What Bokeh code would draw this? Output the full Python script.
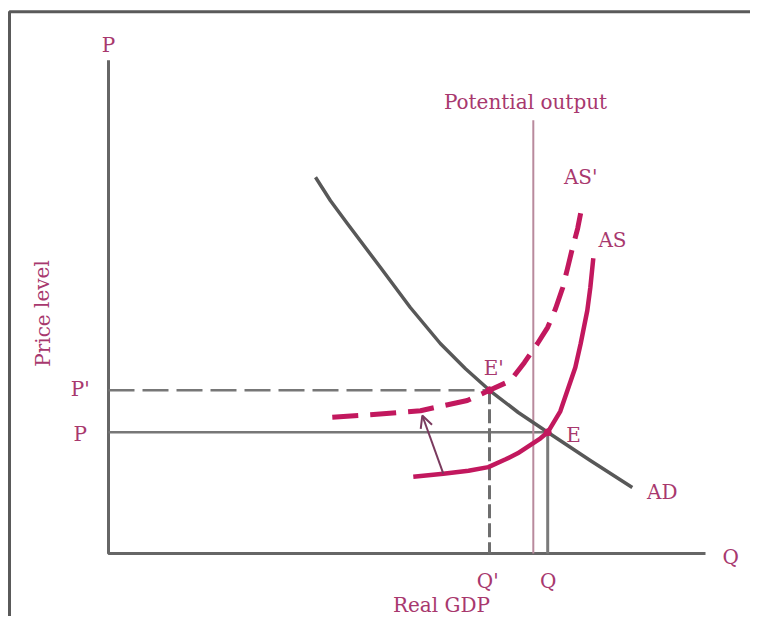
from bokeh.plotting import figure
from bokeh.models import Range1d, Arrow, OpenHead, ColumnDataSource
from bokeh.core.properties import value
from bokeh.embed import file_html
from bokeh.resources import INLINE

# ---- data (Q = real GDP, P = price level) ----
ad_q = [34.5, 37.0, 39.8, 45.3, 50.3, 55.3, 59.5, 63.5, 68.3, 73.2, 80.3, 87.3]
ad_p = [62.7, 58.8, 55.0, 47.7, 41.0, 35.0, 30.8, 27.2, 23.5, 20.2, 15.5, 11.0]

as_q = [50.8, 55.8, 60.0, 63.3, 66.2, 68.2, 72.0, 73.2, 75.3, 77.8, 78.7, 79.8, 80.3, 80.8]
as_p = [12.8, 13.3, 13.8, 14.4, 15.7, 16.7, 19.2, 20.2, 23.7, 31.0, 35.0, 40.5, 44.3, 49.2]

as2_q = [37.3, 44.7, 52.0, 59.8, 63.5, 67.0, 69.3, 71.5, 73.2, 74.5, 75.7, 76.5, 77.3, 78.2, 79.0]
as2_p = [22.7, 23.2, 23.8, 25.5, 27.2, 28.8, 31.8, 35.0, 37.7, 40.8, 44.3, 47.5, 50.8, 54.2, 58.3]

E = (73.2, 20.2)          # equilibrium (Q, P)
E2 = (63.5, 27.2)         # new equilibrium (Q', P')
potential_q = 70.8
potential_top = 72.2
axis_q_max = 99.5
axis_p_max = 82.2
shift_from = (55.8, 13.3)
shift_to = (52.3, 23.0)

label_text = ["P", "Potential output", "AS'", "AS", "E'", "E", "AD", "Q",
              "Q'", "Q", "Real GDP", "P'", "P"]
label_x = [0.0, 69.5, 78.7, 84.0, 64.2, 77.5, 92.3, 103.7, 63.2, 73.3, 55.5, -4.7, -4.7]
label_y = [84.8, 75.2, 62.7, 52.2, 31.0, 19.8, 10.2, -0.5, -4.5, -4.5, -8.6, 27.5, 20.0]

ytitle = "Price level"
ytitle_pos = (-11.0, 40.0)

# ---- styles ----
MAG = "#c2185e"
TXT = "#a8386e"
FONT = value("DejaVu Serif")

p = figure(width=750, height=616,
           x_range=Range1d(-108 / 6, 642 / 6), y_range=Range1d(-63 / 6, 553 / 6),
           x_axis_type=None, y_axis_type=None,
           output_backend="svg", toolbar_location=None, min_border=0)
p.grid.visible = False
p.outline_line_color = None
p.background_fill_color = "white"

# picture frame (top and left edges)
p.line([-16.5, -16.5, 110.0], [-12.0, 90.3, 90.3], line_color="#5a5a5a", line_width=3)

# axes
p.line([0, 0, axis_q_max], [axis_p_max, 0, 0], line_color="#666666", line_width=3)

# guide lines
p.line([0, E[0]], [E[1], E[1]], line_color="#777777", line_width=2.5)
p.line([E[0], E[0]], [E[1], 0], line_color="#7a7a7a", line_width=3)
p.line([0, E2[0]], [E2[1], E2[1]], line_color="#777777", line_width=2.5, line_dash="26 8")
p.line([E2[0], E2[0]], [E2[1], 0], line_color="#6e6e6e", line_width=3, line_dash="14 5")

# potential output
p.line([potential_q, potential_q], [potential_top, 0], line_color="#b98a9d", line_width=2)

# curves
p.line(ad_q, ad_p, line_color="#585858", line_width=3.5, line_join="round")
p.line(as_q, as_p, line_color=MAG, line_width=4.5, line_join="round")
p.line(as2_q, as2_p, line_color=MAG, line_width=5, line_dash="26 12", line_join="round")

p.scatter([E[0], E2[0]], [E[1], E2[1]], size=7, color=MAG)

# shift arrow
p.add_layout(Arrow(end=OpenHead(size=12, line_color="#7a3a5e", line_width=2),
                   x_start=shift_from[0], y_start=shift_from[1],
                   x_end=shift_to[0], y_end=shift_to[1],
                   line_color="#7a3a5e", line_width=2))

src = ColumnDataSource(dict(x=label_x, y=label_y, t=label_text))
p.text("x", "y", text="t", source=src, text_font=FONT, text_font_size="20px",
       text_color=TXT, text_align="center", text_baseline="middle")
p.text([ytitle_pos[0]], [ytitle_pos[1]], text=[ytitle], angle=1.5708,
       text_font=FONT, text_font_size="20px", text_color=TXT,
       text_align="center", text_baseline="middle")

open("out.html", "w").write(file_html(p, INLINE))
